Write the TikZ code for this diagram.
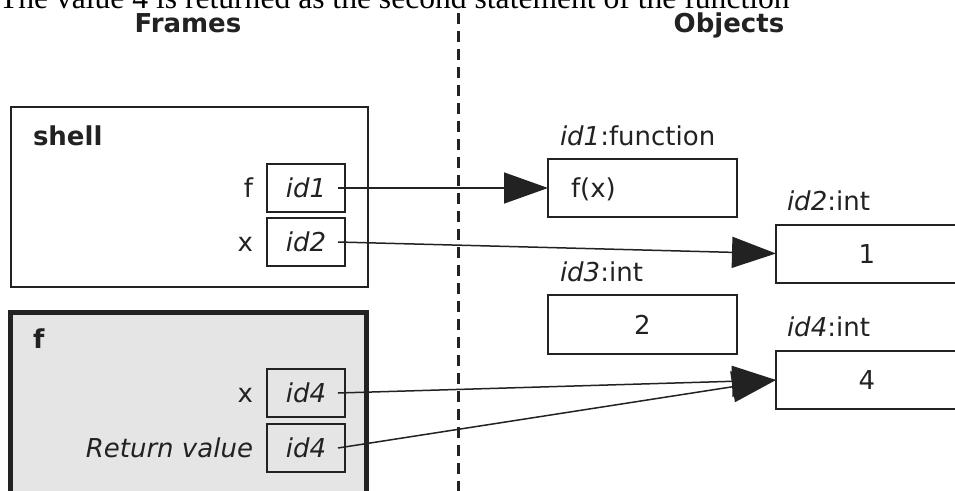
\documentclass[tikz,border=0pt]{standalone}
\usepackage{fontspec}
\setmainfont{DejaVu Sans}
\newfontfamily\captionfont{Liberation Serif}
\usetikzlibrary{arrows.meta}
\definecolor{ink}{RGB}{34,34,34}
\definecolor{framegray}{RGB}{229,229,229}
\begin{document}
\begin{tikzpicture}[x=1pt,y=-1pt,
  every node/.style={inner sep=0pt, outer sep=0pt, text=ink,
    font=\fontsize{26}{31}\selectfont, text height=19pt, text depth=0pt},
  framebox/.style={draw=ink, line width=2pt, minimum width=357pt, minimum height=180pt},
  activeframe/.style={draw=ink, line width=5pt, fill=framegray, minimum width=356pt, minimum height=228pt},
  varbox/.style={draw=ink, line width=2pt, minimum width=78pt, minimum height=48pt},
  objbox/.style={draw=ink, line width=2pt, minimum height=58pt},
  ref/.style={draw=ink, line width=1.5pt, -{Triangle[length=44pt,width=31pt]}},
  separator/.style={draw=ink, line width=3pt, dash pattern=on 11pt off 7pt}]
\useasboundingbox (0,0) rectangle (955,490);

% caption line, running off the top edge
\node[anchor=base west, text=black, font=\captionfont\fontsize{31.6}{38}\selectfont]
  (caption) at (-1,8) {The value 4 is returned as the second statement of the function};

% column headings and separator
\node[anchor=base] (framesttl) at (188,32) {\textbf{Frames}};
\node[anchor=base] (objectsttl) at (729,32) {\textbf{Objects}};
\draw[separator] (458,13) -- (458,495);

% shell frame
\node[framebox] (shell) at (189.5,197) {};
\node[anchor=base west] (shellname) at (33,145) {\textbf{shell}};
\node[varbox] (shf) at (306,188) {\textit{id1}};
\node[varbox] (shx) at (306,242) {\textit{id2}};
\node[anchor=east] (shflab) at ([xshift=-14pt]shf.west) {f};
\node[anchor=east] (shxlab) at ([xshift=-14pt]shx.west) {x};

% active frame of f
\node[activeframe] (fframe) at (188.5,426) {};
\node[anchor=base west] (fname) at (33,348) {\textbf{f}};
\node[varbox] (fx) at (306,393) {\textit{id4}};
\node[varbox] (fret) at (306,448) {\textit{id4}};
\node[anchor=east] (fxlab) at ([xshift=-14pt]fx.west) {x};
\node[anchor=east] (fretlab) at ([xshift=-14pt]fret.west) {\textit{Return value}};

% objects
\node[objbox, text width=143pt, inner xsep=23pt, align=left] (obj1) at (642.5,188) {f(x)};
\node[anchor=base west] (obj1lab) at (560,145) {\textit{id1}:function};
\node[objbox, minimum width=182pt] (obj2) at (867,253.5) {1};
\node[anchor=base west] (obj2lab) at (787,210) {\textit{id2}:int};
\node[objbox, minimum width=189pt, minimum height=59pt] (obj3) at (642.5,324.5) {2};
\node[anchor=base west] (obj3lab) at (560,281) {\textit{id3}:int};
\node[objbox, minimum width=182pt] (obj4) at (867,380) {4};
\node[anchor=base west] (obj4lab) at (787,336) {\textit{id4}:int};

% references from variables to objects
\draw[ref] ([xshift=-7pt]shf.east) -- (obj1.west);
\draw[ref] ([xshift=-7pt]shx.east) -- (obj2.west);
\draw[ref] ([xshift=-7pt]fx.east) -- (obj4.west);
\draw[ref] ([xshift=-7pt]fret.east) -- (obj4.west);
\end{tikzpicture}
\end{document}
